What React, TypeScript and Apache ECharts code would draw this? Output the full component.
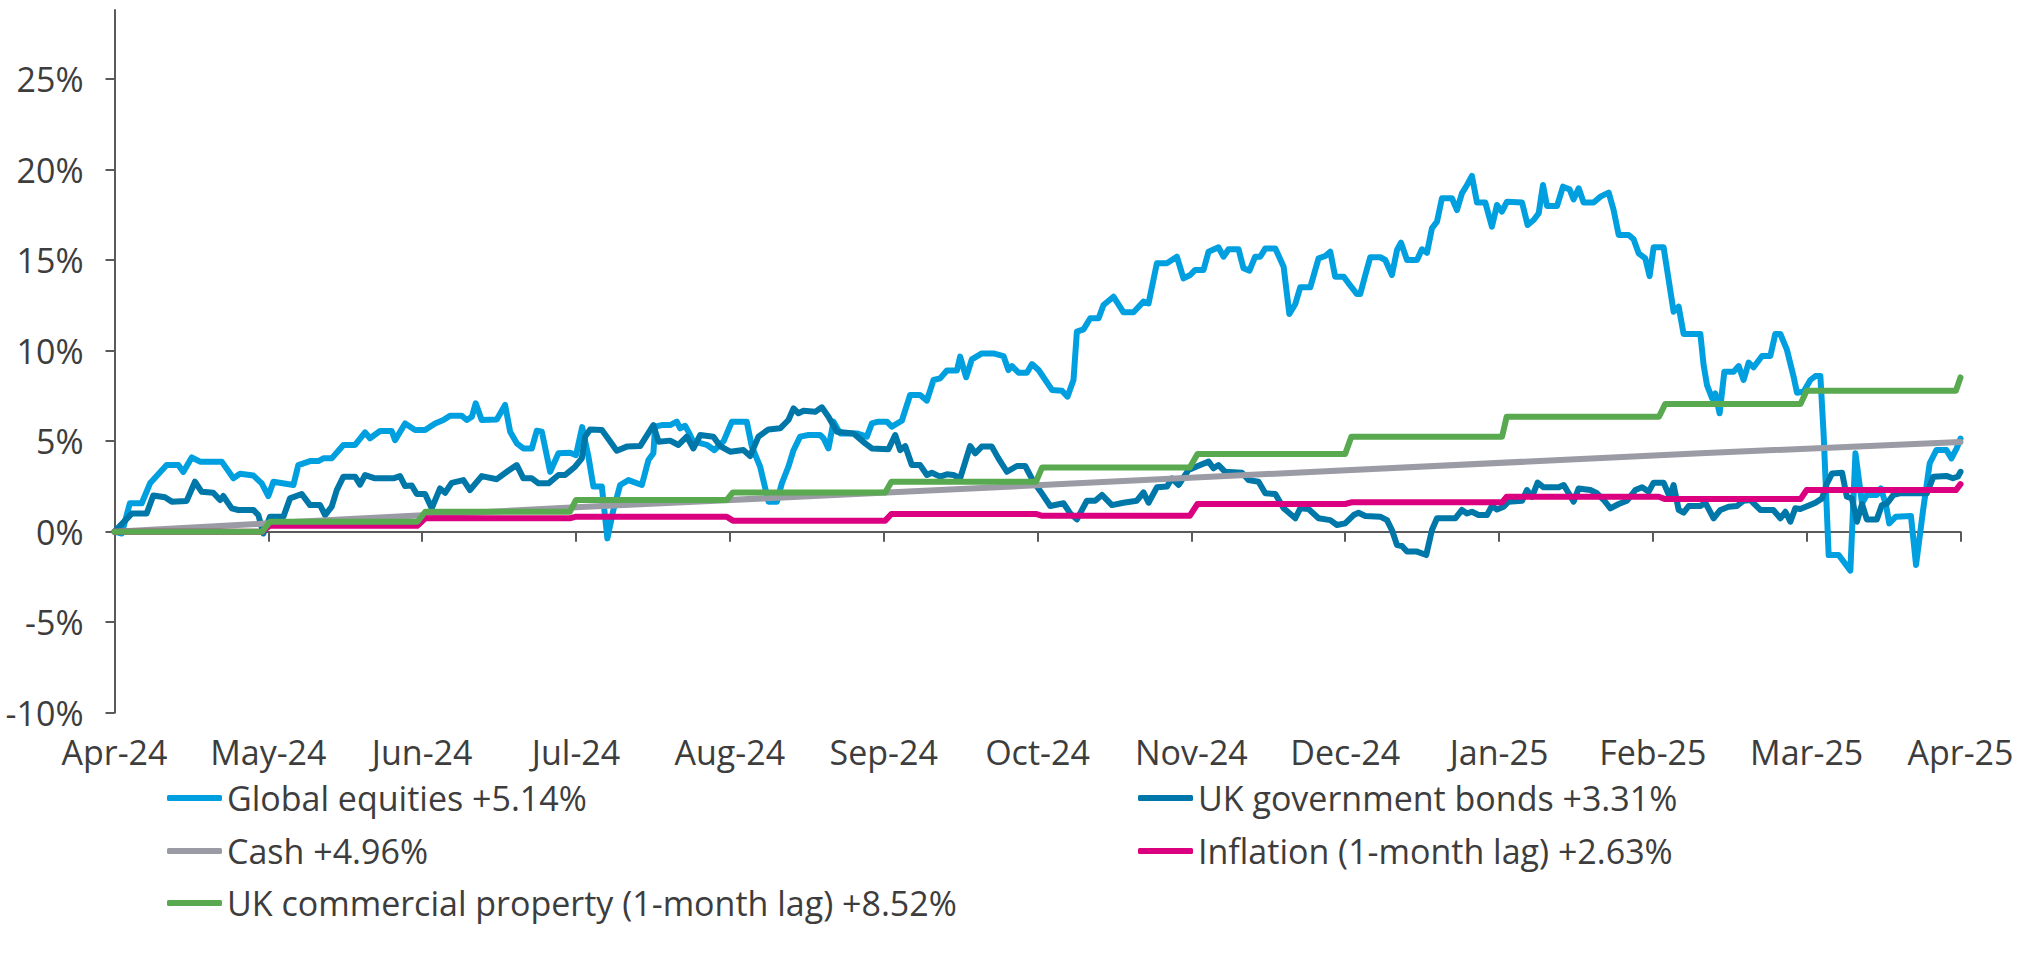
import React, { useEffect, useRef } from "react";
import * as echarts from "echarts";

const MONTH_LABELS = ["Apr-24", "May-24", "Jun-24", "Jul-24", "Aug-24", "Sep-24", "Oct-24", "Nov-24", "Dec-24", "Jan-25", "Feb-25", "Mar-25", "Apr-25"];
const MONTH_TICKS = [0, 1, 2, 3, 4, 5, 6, 7, 8, 9, 10, 11, 12];
const Y_TICKS = [-10, -5, 0, 5, 10, 15, 20, 25];

const SERIES_NAMES = [
  "Global equities +5.14%",
  "UK government bonds +3.31%",
  "Cash +4.96%",
  "Inflation (1-month lag) +2.63%",
  "UK commercial property (1-month lag) +8.52%",
];

// [month since Apr-24, cumulative return %]
const EQUITIES: [number, number][] = [
  [0, 0], [0.047, -0.1], [0.1, 1.57], [0.177, 1.57], [0.231, 2.67], [0.339, 3.68], [0.415, 3.68], [0.447, 3.3], [0.502, 4.1], [0.556, 3.87], [0.697, 3.87], [0.773, 2.95], [0.816, 3.2], [0.903, 3.1], [0.957, 2.67], [1.0, 1.97], [1.033, 2.76], [1.163, 2.58], [1.195, 3.68], [1.271, 3.9], [1.325, 3.9], [1.358, 4.05], [1.412, 4.05], [1.488, 4.79], [1.564, 4.79], [1.629, 5.49], [1.661, 5.16], [1.726, 5.56], [1.802, 5.56], [1.824, 5.06], [1.889, 5.98], [1.954, 5.62], [2.019, 5.62], [2.084, 5.98], [2.138, 6.17], [2.181, 6.41], [2.257, 6.41], [2.29, 6.17], [2.323, 6.35], [2.348, 7.09], [2.387, 6.17], [2.485, 6.2], [2.539, 7.0], [2.572, 5.52], [2.615, 4.88], [2.658, 4.6], [2.713, 4.6], [2.745, 5.58], [2.778, 5.52], [2.832, 3.31], [2.886, 4.33], [2.962, 4.36], [3.0, 4.23], [3.04, 5.78], [3.081, 4.14], [3.113, 2.49], [3.168, 2.49], [3.204, -0.37], [3.243, 1.2], [3.287, 2.58], [3.341, 2.85], [3.428, 2.58], [3.471, 3.96], [3.503, 4.33], [3.514, 5.8], [3.558, 5.89], [3.612, 5.89], [3.655, 6.08], [3.677, 5.71], [3.709, 5.85], [3.737, 5.43], [3.76, 5.0], [3.85, 4.8], [3.9, 4.5], [3.96, 5.0], [4.013, 6.08], [4.11, 6.08], [4.143, 4.7], [4.197, 3.59], [4.251, 1.66], [4.306, 1.66], [4.338, 2.67], [4.381, 3.6], [4.414, 4.5], [4.457, 5.25], [4.511, 5.34], [4.587, 5.34], [4.609, 5.16], [4.641, 4.6], [4.674, 6.08], [4.717, 5.43], [4.826, 5.43], [4.891, 5.25], [4.923, 5.98], [4.966, 6.08], [5.021, 6.08], [5.053, 5.8], [5.118, 6.13], [5.172, 7.55], [5.237, 7.55], [5.281, 7.24], [5.324, 8.38], [5.367, 8.47], [5.411, 8.9], [5.476, 8.9], [5.497, 9.67], [5.536, 8.53], [5.573, 9.52], [5.638, 9.85], [5.714, 9.85], [5.779, 9.7], [5.811, 8.93], [5.834, 9.15], [5.877, 8.78], [5.931, 8.78], [5.964, 9.26], [6.007, 8.93], [6.094, 7.83], [6.159, 7.79], [6.195, 7.46], [6.234, 8.38], [6.256, 11.05], [6.299, 11.18], [6.343, 11.79], [6.397, 11.79], [6.429, 12.52], [6.494, 12.98], [6.559, 12.12], [6.624, 12.12], [6.689, 12.71], [6.722, 12.61], [6.776, 14.83], [6.841, 14.83], [6.906, 15.19], [6.949, 13.99], [6.993, 14.18], [7.025, 14.46], [7.079, 14.46], [7.112, 15.47], [7.177, 15.71], [7.209, 15.19], [7.242, 15.6], [7.307, 15.6], [7.339, 14.55], [7.378, 14.42], [7.415, 15.19], [7.448, 15.19], [7.481, 15.65], [7.546, 15.65], [7.6, 14.64], [7.637, 12.03], [7.676, 12.58], [7.708, 13.5], [7.773, 13.5], [7.827, 15.1], [7.871, 15.23], [7.903, 15.47], [7.935, 14.09], [7.99, 14.09], [8.022, 13.72], [8.077, 13.13], [8.098, 13.13], [8.131, 14.18], [8.163, 15.16], [8.228, 15.16], [8.261, 15.01], [8.304, 14.18], [8.337, 15.56], [8.363, 15.97], [8.402, 15.01], [8.467, 15.01], [8.499, 15.6], [8.532, 15.41], [8.564, 16.76], [8.597, 17.13], [8.629, 18.42], [8.694, 18.42], [8.727, 17.77], [8.759, 18.69], [8.792, 19.15], [8.824, 19.65], [8.857, 18.18], [8.911, 18.18], [8.954, 16.85], [8.987, 18.05], [9.019, 17.68], [9.052, 18.23], [9.15, 18.18], [9.186, 16.94], [9.225, 17.22], [9.258, 17.59], [9.286, 19.15], [9.312, 17.99], [9.377, 17.99], [9.416, 19.06], [9.459, 18.91], [9.485, 18.36], [9.518, 18.97], [9.55, 18.18], [9.615, 18.18], [9.659, 18.51], [9.713, 18.73], [9.745, 17.77], [9.778, 16.39], [9.843, 16.39], [9.875, 16.15], [9.908, 15.38], [9.951, 15.1], [9.979, 14.12], [10.005, 15.71], [10.07, 15.71], [10.103, 13.9], [10.135, 12.15], [10.168, 12.43], [10.2, 10.92], [10.309, 10.92], [10.33, 9.21], [10.352, 8.1], [10.385, 7.37], [10.406, 7.64], [10.434, 6.54], [10.465, 8.84], [10.525, 8.84], [10.558, 9.15], [10.59, 8.38], [10.623, 9.34], [10.655, 9.08], [10.71, 9.71], [10.764, 9.71], [10.796, 10.92], [10.829, 10.92], [10.872, 10.04], [10.915, 8.56], [10.937, 7.68], [10.98, 7.73], [11.024, 8.38], [11.057, 8.6], [11.089, 8.6], [11.11, 5.43], [11.143, -1.29], [11.208, -1.29], [11.284, -2.15], [11.317, 4.33], [11.36, 1.57], [11.391, 2.03], [11.456, 2.03], [11.482, 2.39], [11.515, 1.5], [11.537, 0.46], [11.58, 0.83], [11.678, 0.87], [11.711, -1.84], [11.757, 1.2], [11.8, 3.78], [11.843, 4.51], [11.908, 4.51], [11.941, 4.05], [11.975, 4.6], [12.0, 5.14],
];

const BONDS: [number, number][] = [
  [0, 0], [0.112, 1.0], [0.209, 1.0], [0.252, 2.0], [0.328, 1.9], [0.372, 1.66], [0.469, 1.7], [0.523, 2.76], [0.567, 2.2], [0.642, 2.15], [0.686, 1.75], [0.707, 1.97], [0.762, 1.29], [0.805, 1.2], [0.903, 1.2], [0.935, 0.92], [0.968, -0.1], [1.011, 0.83], [1.098, 0.83], [1.141, 1.84], [1.217, 2.08], [1.271, 1.47], [1.336, 1.47], [1.369, 0.92], [1.412, 1.38], [1.445, 2.3], [1.488, 3.04], [1.564, 3.04], [1.596, 2.6], [1.629, 3.13], [1.694, 2.95], [1.813, 2.95], [1.856, 3.07], [1.889, 2.52], [1.932, 2.55], [1.965, 2.08], [2.019, 2.08], [2.062, 1.29], [2.116, 2.39], [2.149, 2.15], [2.192, 2.7], [2.268, 2.85], [2.311, 2.3], [2.387, 3.07], [2.485, 2.9], [2.56, 3.37], [2.615, 3.68], [2.658, 2.95], [2.713, 2.95], [2.756, 2.67], [2.821, 2.67], [2.886, 3.13], [2.929, 3.13], [2.994, 3.59], [3.038, 4.05], [3.059, 5.25], [3.092, 5.65], [3.168, 5.62], [3.2, 5.25], [3.265, 4.47], [3.33, 4.7], [3.417, 4.73], [3.503, 5.89], [3.536, 4.97], [3.612, 5.03], [3.666, 4.79], [3.72, 5.25], [3.763, 4.6], [3.807, 5.34], [3.893, 5.25], [3.937, 4.73], [4.002, 4.42], [4.088, 4.51], [4.132, 4.18], [4.186, 5.25], [4.251, 5.65], [4.327, 5.71], [4.381, 6.17], [4.414, 6.81], [4.446, 6.54], [4.479, 6.68], [4.555, 6.62], [4.598, 6.87], [4.641, 6.35], [4.696, 5.52], [4.804, 5.43], [4.88, 4.88], [4.923, 4.6], [5.031, 4.55], [5.075, 5.34], [5.107, 4.51], [5.14, 4.73], [5.183, 3.68], [5.237, 3.68], [5.281, 3.13], [5.313, 3.26], [5.367, 3.04], [5.411, 3.17], [5.454, 3.13], [5.497, 2.95], [5.562, 4.73], [5.595, 4.33], [5.638, 4.7], [5.703, 4.7], [5.746, 4.05], [5.801, 3.31], [5.866, 3.63], [5.92, 3.63], [5.974, 2.76], [6.028, 2.12], [6.083, 1.42], [6.169, 1.57], [6.213, 1.01], [6.256, 0.68], [6.321, 1.71], [6.375, 1.71], [6.419, 2.03], [6.484, 1.47], [6.559, 1.6], [6.646, 1.71], [6.689, 2.17], [6.722, 1.6], [6.776, 2.45], [6.841, 2.49], [6.874, 2.95], [6.917, 2.58], [6.982, 3.41], [7.058, 3.68], [7.112, 3.87], [7.144, 3.5], [7.177, 3.68], [7.22, 3.31], [7.329, 3.26], [7.372, 2.85], [7.437, 2.76], [7.481, 2.12], [7.546, 2.08], [7.6, 1.29], [7.676, 0.74], [7.708, 1.29], [7.762, 1.25], [7.827, 0.74], [7.903, 0.64], [7.947, 0.37], [8.0, 0.46], [8.055, 0.92], [8.087, 1.05], [8.131, 0.87], [8.228, 0.83], [8.272, 0.64], [8.304, 0.09], [8.337, -0.74], [8.369, -0.79], [8.402, -1.1], [8.467, -1.1], [8.527, -1.29], [8.564, 0.09], [8.597, 0.74], [8.716, 0.74], [8.759, 1.2], [8.792, 1.01], [8.824, 1.1], [8.867, 0.92], [8.922, 0.92], [8.954, 1.42], [8.987, 1.23], [9.03, 1.38], [9.062, 1.66], [9.15, 1.71], [9.182, 2.3], [9.215, 1.93], [9.251, 2.71], [9.29, 2.45], [9.388, 2.45], [9.421, 2.58], [9.453, 2.12], [9.485, 1.66], [9.518, 2.39], [9.594, 2.3], [9.637, 2.12], [9.681, 1.75], [9.724, 1.29], [9.778, 1.53], [9.832, 1.71], [9.886, 2.3], [9.93, 2.45], [9.973, 2.21], [10.005, 2.71], [10.07, 2.71], [10.109, 1.93], [10.135, 2.58], [10.168, 1.2], [10.2, 1.05], [10.233, 1.42], [10.309, 1.42], [10.341, 1.6], [10.395, 0.74], [10.439, 1.2], [10.493, 1.38], [10.547, 1.42], [10.59, 1.71], [10.634, 1.75], [10.699, 1.2], [10.783, 1.2], [10.829, 0.74], [10.862, 1.1], [10.894, 0.55], [10.926, 1.29], [10.959, 1.25], [11.057, 1.6], [11.1, 1.84], [11.132, 2.67], [11.165, 3.22], [11.23, 3.26], [11.261, 1.93], [11.294, 1.84], [11.327, 0.55], [11.36, 1.53], [11.391, 0.68], [11.456, 0.68], [11.489, 1.47], [11.521, 1.55], [11.564, 2.03], [11.607, 2.12], [11.781, 2.12], [11.824, 3.04], [11.908, 3.08], [11.951, 2.95], [11.984, 3.05], [12.0, 3.31],
];

const CASH: [number, number][] = [
  [0, 0], [1, 0.46], [3, 1.35], [4.82, 2.08], [7.94, 3.37], [10.31, 4.33], [12, 4.96],
];

const INFLATION: [number, number][] = [
  [0, 0], [0.96, 0], [1.01, 0.33], [1.97, 0.33], [2.02, 0.74], [2.96, 0.74], [3.0, 0.83], [3.98, 0.83], [4.02, 0.61], [5.01, 0.61], [5.05, 0.98], [5.99, 0.98], [6.03, 0.88], [6.99, 0.88], [7.04, 1.53], [8.0, 1.53], [8.04, 1.62], [9.02, 1.62], [9.05, 1.93], [10.04, 1.93], [10.08, 1.8], [10.96, 1.8], [11.0, 2.3], [11.97, 2.3], [12.0, 2.63],
];

const PROPERTY: [number, number][] = [
  [0, 0], [0.96, 0], [1.01, 0.55], [1.97, 0.55], [2.02, 1.1], [2.96, 1.1], [3.0, 1.75], [3.98, 1.75], [4.02, 2.17], [5.01, 2.17], [5.05, 2.76], [5.99, 2.76], [6.03, 3.55], [6.99, 3.55], [7.04, 4.29], [8.0, 4.29], [8.04, 5.25], [9.02, 5.25], [9.05, 6.35], [10.04, 6.35], [10.08, 7.05], [10.96, 7.05], [11.0, 7.79], [11.97, 7.79], [12.0, 8.52],
];

const COLORS = ["#00A0E0", "#0077A9", "#9A9BA4", "#DB0080", "#58A94F"];
const FONT = "'Open Sans', sans-serif";
const FONT_SIZE = 34;
const TEXT_COLOR = "#3d3d3d";
const AXIS_COLOR = "#5a5a5a";

export default function App() {
  const ref = useRef<HTMLDivElement>(null);

  useEffect(() => {
    if (!ref.current) return;
    const chart = echarts.init(ref.current, null, { renderer: "svg" });
    const allData = [EQUITIES, BONDS, CASH, INFLATION, PROPERTY];

    const legendPos = [
      { left: 167, center: 798 },
      { left: 1138, center: 798 },
      { left: 167, center: 851 },
      { left: 1138, center: 851 },
      { left: 167, center: 903 },
    ];

    const option: any = {
      animation: false,
      backgroundColor: "#ffffff",
      textStyle: { fontFamily: FONT },
      grid: { left: 114.5, right: 83.5, top: 10, height: 702.7, containLabel: false },
      legend: SERIES_NAMES.map((name, i) => ({
        data: [name],
        left: legendPos[i].left,
        top: legendPos[i].center - 20,
        padding: 0,
        icon: "roundRect",
        itemWidth: 55,
        itemHeight: 6,
        itemGap: 0,
        selectedMode: false,
        textStyle: { fontFamily: FONT, fontSize: FONT_SIZE, color: TEXT_COLOR, lineHeight: 40 },
      })),
      xAxis: [
        {
          type: "value",
          min: 0,
          max: 12,
          interval: 1,
          position: "bottom",
          axisLine: { show: true, onZero: true, lineStyle: { color: AXIS_COLOR, width: 2 } },
          axisTick: { show: true, inside: false, length: 10, customValues: MONTH_TICKS, lineStyle: { color: AXIS_COLOR, width: 2 } },
          axisLabel: { show: false },
          splitLine: { show: false },
        },
        {
          type: "value",
          min: 0,
          max: 12,
          interval: 1,
          position: "bottom",
          axisLine: { show: false, onZero: false },
          axisTick: { show: false },
          splitLine: { show: false },
          axisLabel: {
            show: true,
            margin: 22,
            customValues: MONTH_TICKS,
            formatter: (v: number) => MONTH_LABELS[Math.round(v)] ?? "",
            fontFamily: FONT,
            fontSize: FONT_SIZE,
            color: TEXT_COLOR,
            showMinLabel: true,
            showMaxLabel: true,
          },
        },
      ],
      yAxis: {
        type: "value",
        min: -10,
        max: 28.82,
        interval: 5,
        axisLine: { show: true, lineStyle: { color: AXIS_COLOR, width: 2 } },
        axisTick: { show: true, inside: false, length: 9, customValues: Y_TICKS, lineStyle: { color: AXIS_COLOR, width: 2 } },
        splitLine: { show: false },
        axisLabel: {
          show: true,
          margin: 31,
          customValues: Y_TICKS,
          formatter: (v: number) => `${v}%`,
          fontFamily: FONT,
          fontSize: FONT_SIZE,
          color: TEXT_COLOR,
        },
      },
      series: SERIES_NAMES.map((name, i) => ({
        name,
        type: "line",
        xAxisIndex: 0,
        yAxisIndex: 0,
        data: allData[i],
        showSymbol: false,
        symbol: "none",
        smooth: false,
        clip: true,
        color: COLORS[i],
        lineStyle: { color: COLORS[i], width: 6, cap: "round", join: "round" },
        z: 2 + i,
      })),
    };

    chart.setOption(option);
    return () => chart.dispose();
  }, []);

  return (
    <div
      ref={ref}
      style={{ position: "fixed", left: 0, top: 0, width: 2044, height: 955, background: "#fff" }}
    />
  );
}
